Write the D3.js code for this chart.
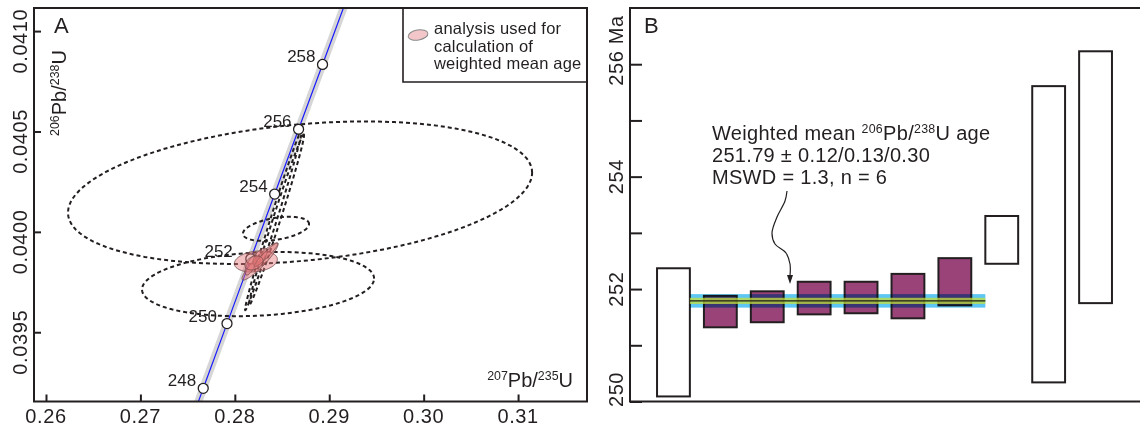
<!DOCTYPE html>
<html>
<head>
<meta charset="utf-8">
<script src="https://cdn.jsdelivr.net/npm/d3@7"></script>
<style>
  html, body { margin: 0; padding: 0; background: #fff; }
  svg { display: block; font-family: "Liberation Sans", Arial, sans-serif; }
  .frame { fill: none; stroke: #231f20; stroke-width: 2; }
  .tick-lbl { font-size: 20px; letter-spacing: 0.6px; fill: #231f20; }
  .axis path { display: none; }
  .axis line { stroke: #231f20; stroke-width: 2; }
</style>
</head>
<body>
<svg id="chart" width="1140" height="429"></svg>
<script>
// ---- panel A: concordia ----
const concAges = [244, 246, 248, 250, 252, 254, 256, 258, 260, 262];
const concX = [0.271635, 0.274142, 0.276654, 0.279171, 0.281693, 0.284220, 0.286752, 0.289289, 0.291831, 0.294378];
const concY = [0.0385759, 0.0388981, 0.0392204, 0.0395430, 0.0398655, 0.0401882, 0.0405110, 0.0408338, 0.0411568, 0.0414800];
const concLabelAges = [248, 250, 252, 254, 256, 258];

const xTicksA = [0.26, 0.27, 0.28, 0.29, 0.30, 0.31];
const yTicksA = [0.0395, 0.0400, 0.0405, 0.0410];

// rejected analyses (dashed): centre x, centre y, sigma x, sigma y, rho
const rejX   = [0.28691, 0.28246, 0.28436, 0.28410, 0.284417];
const rejY   = [0.040195, 0.03974, 0.040015, 0.04006, 0.04006];
const rejSx  = [0.02458, 0.01229, 0.0035, 0.003019, 0.002913];
const rejSy  = [0.000355, 0.00016, 0.00006, 0.00045, 0.000425];
const rejRho = [0.28, 0.17, 0.4, 0.993, 0.99];

// analyses used for the weighted mean (pink)
const useX   = [0.28223, 0.282669, 0.281716, 0.282669, 0.283305, 0.282034];
const useY   = [0.0398525, 0.0398525, 0.039835, 0.039875, 0.039885, 0.039845];
const useSx  = [0.002278, 0.001907, 0.000636, 0.000742, 0.00127, 0.000953];
const useSy  = [0.0000525, 0.0000925, 0.00005, 0.000045, 0.00006, 0.000035];
const useRho = [0.2, 0.92, 0.7, 0.6, 0.95, 0.3];

// ---- panel B: 206Pb/238U ages, ±2σ ----
const spotAges = [251.23, 251.60, 251.685, 251.84, 251.85, 251.875, 252.13, 252.875, 252.975, 253.99];
const spotErr  = [1.14, 0.28, 0.275, 0.29, 0.28, 0.395, 0.42, 0.425, 2.635, 2.24];
const spotUsed = [false, true, true, true, true, true, true, false, false, false];
const meanAge = 251.79;
const meanErrOuter = 0.12;
const meanErrInner = 0.055;
const yTicksB = [250, 251, 252, 253, 254, 255, 256];
const yLabelsB = [250, 252, 254, 256];

const svg = d3.select('#chart');
const INK = '#231f20';

function supLabel(sel, parts) {
  // parts: [[text, isSup], ...]
  parts.forEach(([t, sup], i) => {
    const ts = sel.append('tspan').text(t);
    if (sup) ts.attr('font-size', '0.62em').attr('dy', '-0.55em');
    else if (i > 0 && parts[i - 1][1]) ts.attr('dy', '0.34em');
  });
}

function ellipsePts(cx, cy, sx, sy, rho, xs, ys) {
  const pts = [];
  const k = Math.sqrt(1 - rho * rho);
  for (let i = 0; i <= 120; i++) {
    const t = (i / 120) * 2 * Math.PI;
    pts.push([xs(cx + sx * Math.cos(t)), ys(cy + sy * (rho * Math.cos(t) + k * Math.sin(t)))]);
  }
  return pts;
}

// ================= PANEL A =================
const A = { l: 34, r: 587, t: 8, b: 401.5 };
const xA = d3.scaleLinear().domain([0.25873, 0.3173]).range([A.l, A.r]);
const yA = d3.scaleLinear().domain([0.039155, 0.041115]).range([A.b, A.t]);

svg.append('clipPath').attr('id', 'clipA')
  .append('rect').attr('x', A.l).attr('y', A.t).attr('width', A.r - A.l).attr('height', A.b - A.t);

const gA = svg.append('g').attr('clip-path', 'url(#clipA)');
const concPts = concAges.map((a, i) => [xA(concX[i]), yA(concY[i])]);
const concLine = d3.line().curve(d3.curveMonotoneX);

gA.append('path').attr('d', concLine(concPts))
  .attr('fill', 'none').attr('stroke', '#d6d6d6').attr('stroke-width', 8);
gA.append('path').attr('d', concLine(concPts))
  .attr('fill', 'none').attr('stroke', '#1a1aff').attr('stroke-width', 1.2);

const ellLine = d3.line().curve(d3.curveLinearClosed);
rejX.forEach((cx, i) => {
  gA.append('path')
    .attr('d', ellLine(ellipsePts(cx, rejY[i], rejSx[i], rejSy[i], rejRho[i], xA, yA)))
    .attr('fill', 'none').attr('stroke', INK).attr('stroke-width', 2)
    .attr('stroke-dasharray', '4,3');
});

concLabelAges.forEach((age) => {
  const i = concAges.indexOf(age);
  gA.append('circle').attr('cx', xA(concX[i])).attr('cy', yA(concY[i])).attr('r', 5)
    .attr('fill', '#fff').attr('stroke', INK).attr('stroke-width', 1.3);
});

useX.forEach((cx, i) => {
  gA.append('path')
    .attr('d', ellLine(ellipsePts(cx, useY[i], useSx[i], useSy[i], useRho[i], xA, yA)))
    .attr('fill', 'rgba(228,118,120,0.45)').attr('stroke', '#6e4848').attr('stroke-width', 0.8);
});

const lblDx = { 252: -18, 250: -10 };
concLabelAges.forEach((age) => {
  const i = concAges.indexOf(age);
  gA.append('text')
    .attr('x', xA(concX[i]) + (lblDx[age] || -7))
    .attr('y', yA(concY[i]) - 2)
    .attr('text-anchor', 'end').attr('font-size', 17).attr('fill', INK)
    .text(age);
});

// axes A (ticks inward)
svg.append('g').attr('class', 'axis').attr('transform', `translate(0,${A.b})`)
  .call(d3.axisTop(xA).tickValues(xTicksA).tickSize(7).tickFormat(''));
svg.append('g').attr('class', 'axis').attr('transform', `translate(${A.l},0)`)
  .call(d3.axisRight(yA).tickValues(yTicksA).tickSize(7).tickFormat(''));

svg.selectAll('.xlA').data(xTicksA).enter().append('text')
  .attr('class', 'tick-lbl').attr('x', (d) => xA(d)).attr('y', A.b + 21)
  .attr('text-anchor', 'middle').text(d3.format('.2f'));
// the rotated labels sit a little below their ticks in the original
svg.selectAll('.ylA').data(yTicksA).enter().append('text')
  .attr('class', 'tick-lbl').attr('text-anchor', 'middle')
  .attr('transform', (d) => `translate(27,${yA(d) + 10}) rotate(-90)`)
  .text(d3.format('.4f'));

svg.append('rect').attr('class', 'frame')
  .attr('x', A.l).attr('y', A.t).attr('width', A.r - A.l).attr('height', A.b - A.t);

svg.append('text').attr('x', 54).attr('y', 33).attr('font-size', 22).attr('fill', INK).text('A');

const yLab = svg.append('text').attr('font-size', 20).attr('fill', INK)
  .attr('text-anchor', 'middle').attr('transform', 'translate(66,93) rotate(-90)');
supLabel(yLab, [['206', true], ['Pb/', false], ['238', true], ['U', false]]);

const xLab = svg.append('text').attr('font-size', 20).attr('fill', INK)
  .attr('text-anchor', 'end').attr('x', 573).attr('y', 387);
supLabel(xLab, [['207', true], ['Pb/', false], ['235', true], ['U', false]]);

// legend
svg.append('path').attr('d', `M403,${A.t}V82H${A.r}`)
  .attr('fill', 'none').attr('stroke', INK).attr('stroke-width', 1.6);
svg.append('ellipse').attr('cx', 418).attr('cy', 35).attr('rx', 10).attr('ry', 5)
  .attr('transform', 'rotate(-10,418,35)')
  .attr('fill', '#f3c6c9').attr('stroke', '#8a8a8a').attr('stroke-width', 1);
['analysis used for', 'calculation of', 'weighted mean age'].forEach((t, i) => {
  svg.append('text').attr('x', 434).attr('y', 34 + i * 17.5)
    .attr('font-size', 16.5).attr('letter-spacing', 0.2).attr('fill', INK).text(t);
});

// ================= PANEL B =================
const B = { l: 630, r: 1141, t: 8, b: 401.5 };
const xB = d3.scaleBand().domain(d3.range(spotAges.length)).range([650, 1119])
  .paddingInner(0.3).paddingOuter(0.15);
const yB = d3.scaleLinear().domain([250, 257]).range([B.b, B.t]);

svg.selectAll('.spot').data(spotAges).enter().append('rect')
  .attr('x', (d, i) => xB(i))
  .attr('y', (d, i) => yB(d + spotErr[i]))
  .attr('width', xB.bandwidth())
  .attr('height', (d, i) => yB(d - spotErr[i]) - yB(d + spotErr[i]))
  .attr('fill', (d, i) => (spotUsed[i] ? '#9a4379' : '#fff'))
  .attr('stroke', INK).attr('stroke-width', 2);

const firstUsed = spotUsed.indexOf(true);
const lastUsed = spotUsed.lastIndexOf(true);
const mx0 = xB(firstUsed) - (xB.step() - xB.bandwidth());
const mx1 = xB(lastUsed) + xB.step();
svg.append('rect').attr('x', mx0).attr('width', mx1 - mx0)
  .attr('y', yB(meanAge + meanErrOuter)).attr('height', yB(meanAge - meanErrOuter) - yB(meanAge + meanErrOuter))
  .attr('fill', '#5ec6f2').style('mix-blend-mode', 'multiply');
svg.append('rect').attr('x', mx0).attr('width', mx1 - mx0)
  .attr('y', yB(meanAge + meanErrInner)).attr('height', yB(meanAge - meanErrInner) - yB(meanAge + meanErrInner))
  .attr('fill', '#c6df3c').attr('opacity', 0.75);
svg.append('line').attr('x1', mx0).attr('x2', mx1).attr('y1', yB(meanAge)).attr('y2', yB(meanAge))
  .attr('stroke', '#1d1d10').attr('stroke-width', 1.3);

svg.append('g').attr('class', 'axis').attr('transform', `translate(${B.l},0)`)
  .call(d3.axisRight(yB).tickValues(yTicksB).tickSize(12).tickFormat(''));

// bottom label is pulled up so it stays level with the frame
const lblShiftB = { 250: -12, 256: 4 };
svg.selectAll('.ylB').data(yLabelsB).enter().append('text')
  .attr('class', 'tick-lbl').attr('text-anchor', 'middle')
  .attr('transform', (d) => `translate(623,${yB(d) + (lblShiftB[d] || 0)}) rotate(-90)`)
  .text((d) => d);
svg.append('text').attr('class', 'tick-lbl').attr('text-anchor', 'start')
  .attr('transform', `translate(623,${yB(256) - 20}) rotate(-90)`)
  .text('Ma');

svg.append('rect').attr('class', 'frame')
  .attr('x', B.l).attr('y', B.t).attr('width', B.r - B.l).attr('height', B.b - B.t);

svg.append('text').attr('x', 644).attr('y', 33).attr('font-size', 22).attr('fill', INK).text('B');

const note = svg.append('g').attr('font-size', 20).attr('letter-spacing', 0.3).attr('fill', INK);
const n1 = note.append('text').attr('x', 712).attr('y', 140);
supLabel(n1, [['Weighted mean ', false], ['206', true], ['Pb/', false], ['238', true], ['U age', false]]);
note.append('text').attr('x', 712).attr('y', 162).text('251.79 ± 0.12/0.13/0.30');
note.append('text').attr('x', 712).attr('y', 184).text('MSWD = 1.3, n = 6');

// curly arrow to the mean line
const arrowPts = [[787, 191], [785, 201], [777, 217], [772, 233], [775, 244], [786, 253], [790, 264], [790, 276]];
svg.append('path').attr('d', d3.line().curve(d3.curveCatmullRom)(arrowPts))
  .attr('fill', 'none').attr('stroke', INK).attr('stroke-width', 1.2);
svg.append('path').attr('d', 'M787,275 L793,275 L790,284 Z').attr('fill', INK);
</script>
</body>
</html>
